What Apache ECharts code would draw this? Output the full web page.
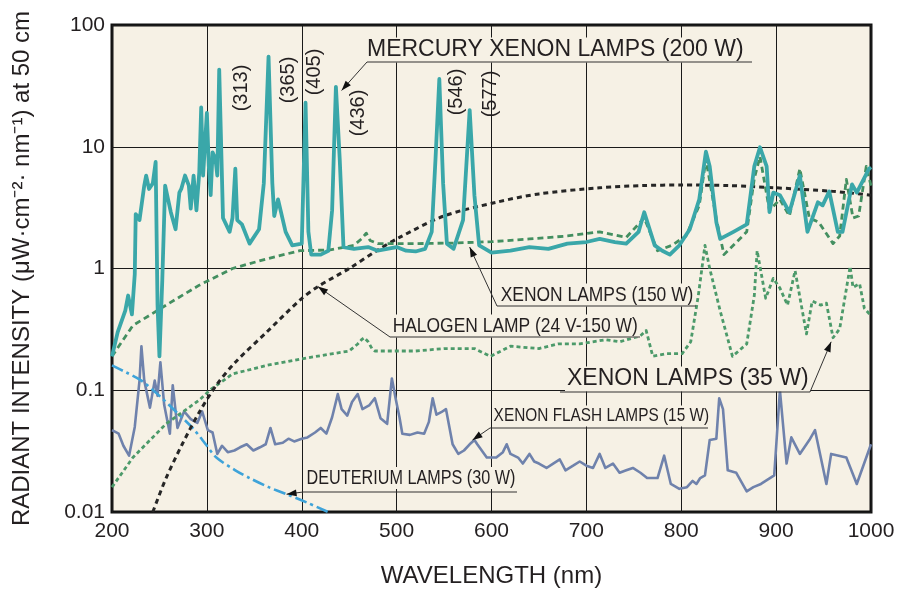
<!DOCTYPE html>
<html>
<head>
<meta charset="utf-8">
<script src="https://cdn.jsdelivr.net/npm/echarts@6/dist/echarts.min.js"></script>
<style>
  html, body { margin: 0; padding: 0; background: #ffffff; }
  #chart { width: 899px; height: 593px; }
</style>
</head>
<body>
<div id="chart"></div>
<script>
// Spectral irradiance of light sources, wavelength (nm) vs radiant intensity (log scale)

// Mercury xenon lamp, 200 W
const hgxeNm = [200,206,214,217,221,224,225,229,234,236,239,243,246,248,250,253,256,262,267,271,273,277,281,283,286,289,292,294,296,300,302,304,306,309,311,313,317,324,327,330,332,337,345,355,360,365,369,371,375,383,390,400,404,407,410,420,428,432,436,440,444,455,470,480,490,500,510,520,530,537,541,545,549,553,560,570,577,582,587,600,620,640,660,680,700,714,730,742,755,761,772,780,788,798,809,819,826,830,837,841,855,869,877,883,890,893,897,904,914,925,933,944,949,956,965,970,980,985,998,1000];
const hgxeVal = [0.19,0.3,0.45,0.6,0.42,0.9,2.8,2.5,4.8,5.8,4.5,5.0,7.5,0.5,0.19,0.8,4.8,2.9,2.1,4.2,4.5,5.8,4.8,3.1,5.8,3.0,6.2,21,5.8,19,7,4.0,9,8,5.8,43,2.6,2.0,2.6,6.6,2.5,2.3,1.6,2.1,5,55,5,2.7,3.7,2.0,1.55,1.6,23,2,1.3,1.3,1.4,3,31,8,1.5,1.45,1.5,1.4,1.45,1.5,1.4,1.38,1.45,2,8,36,5,1.6,1.45,2.5,20,4,1.55,1.35,1.4,1.5,1.45,1.6,1.65,1.75,1.65,1.6,2.0,2.9,1.55,1.4,1.3,1.55,2.1,3.7,9.1,6.9,2.4,1.75,2.0,2.3,6.9,9.9,6.9,2.9,4.2,4.0,2.9,5.8,2.0,3.5,3.3,4.3,2.0,2.0,4.9,4.2,6.6,6.8];

// Xenon lamp, 150 W
const xe150Nm = [200,222,257,292,327,363,398,430,455,463,468,472,480,520,560,600,640,680,714,742,761,775,790,805,819,826,837,845,860,869,877,883,893,904,914,925,935,945,960,967,974,981,987,995,1000];
const xe150Val = [0.19,0.34,0.5,0.73,1.0,1.2,1.4,1.42,1.55,1.75,1.95,1.7,1.6,1.6,1.62,1.66,1.75,1.85,2.0,1.8,2.6,1.4,1.55,1.85,3.3,7.9,2.55,1.3,1.7,2.0,5.5,8.3,3.0,3.7,2.7,6.6,2.6,2.4,1.6,1.85,5.4,2.6,2.7,6.9,4.8];

// Halogen lamp, 24 V-150 W
const halNm = [243,257,274,292,310,330,363,398,417,450,479,503,550,605,650,714,760,800,850,900,960,1000];
const halVal = [0.01,0.019,0.036,0.066,0.11,0.17,0.3,0.55,0.71,1.0,1.4,1.8,2.7,3.5,4.1,4.6,4.8,4.85,4.8,4.6,4.3,4.0];

// Xenon lamp, 35 W
const xe35Nm = [200,222,257,292,303,327,363,398,433,450,459,463,466,470,474,477,494,520,550,582,599,610,620,650,670,693,720,735,757,763,770,785,801,810,818,825,830,841,854,869,877,880,889,897,904,912,920,932,938,947,953,960,967,978,981,988,993,1000];
const xe35Val = [0.016,0.028,0.053,0.083,0.1,0.136,0.16,0.18,0.2,0.21,0.24,0.26,0.27,0.25,0.22,0.21,0.21,0.21,0.22,0.22,0.19,0.21,0.23,0.22,0.24,0.24,0.26,0.25,0.28,0.31,0.19,0.2,0.2,0.25,0.6,1.55,1.0,0.45,0.19,0.24,0.6,1.4,0.57,0.83,0.69,0.5,0.96,0.29,0.54,0.5,0.52,0.27,0.32,1.04,0.7,0.75,0.47,0.41];

// Xenon flash lamp, 15 W
const flashNm = [200,207,212,218,224,229,231,234,240,245,248,251,255,261,264,269,276,283,290,295,301,306,311,316,322,329,335,342,349,356,362,367,372,380,386,392,400,406,414,420,426,432,438,442,448,453,459,464,471,477,483,490,495,499,503,506,514,522,529,534,538,542,547,552,559,565,571,577,582,585,595,605,612,616,620,628,633,640,645,650,658,665,672,678,686,693,700,707,714,720,728,735,742,749,757,764,775,782,789,798,806,812,816,820,825,830,837,840,844,849,858,869,876,884,898,904,911,916,925,935,941,953,958,974,985,1000];
const flashVal = [0.047,0.044,0.035,0.029,0.05,0.12,0.23,0.12,0.072,0.12,0.09,0.17,0.076,0.044,0.11,0.049,0.067,0.058,0.054,0.067,0.047,0.045,0.03,0.035,0.031,0.032,0.034,0.036,0.032,0.034,0.036,0.049,0.036,0.037,0.04,0.038,0.04,0.041,0.045,0.049,0.044,0.06,0.093,0.07,0.062,0.08,0.093,0.07,0.075,0.086,0.059,0.053,0.125,0.085,0.06,0.044,0.043,0.045,0.044,0.055,0.086,0.063,0.066,0.07,0.036,0.03,0.032,0.036,0.039,0.036,0.028,0.028,0.031,0.036,0.03,0.028,0.025,0.03,0.026,0.025,0.023,0.025,0.027,0.022,0.024,0.026,0.024,0.023,0.03,0.023,0.025,0.021,0.022,0.023,0.021,0.019,0.019,0.029,0.017,0.0155,0.016,0.018,0.017,0.019,0.02,0.039,0.04,0.086,0.07,0.022,0.021,0.0148,0.016,0.017,0.02,0.1,0.025,0.041,0.03,0.039,0.047,0.017,0.03,0.028,0.017,0.036];

// Deuterium lamp, 30 W
const d2Nm = [200,215,231,250,268,285,300,310,330,345,365,384,405,428];
const d2Val = [0.16,0.14,0.12,0.09,0.066,0.049,0.035,0.028,0.022,0.019,0.016,0.014,0.012,0.01];

// Axis ticks
const xTicks = [200,300,400,500,600,700,800,900,1000];
const yTickLabels = ['0.01','0.1','1','10','100'];

const zip = (xs, ys) => xs.map((x, i) => [x, ys[i]]);

const FONT = "'Liberation Sans', Arial, Helvetica, sans-serif";
const chart = echarts.init(document.getElementById('chart'), null, { renderer: 'canvas' });

function line(name, xs, ys, color, width, dash, smooth, z) {
  return {
    name, type: 'line', data: zip(xs, ys), showSymbol: false, symbol: 'none',
    smooth: smooth || false, clip: true, z: z,
    lineStyle: { color, width, type: dash || 'solid', cap: 'butt', join: 'round' },
    emphasis: { disabled: true }
  };
}

chart.setOption({
  animation: false,
  backgroundColor: '#ffffff',
  grid: {
    left: 112, right: 28, top: 25, bottom: 78, show: true,
    backgroundColor: '#F6F1E5', borderColor: '#111111', borderWidth: 3
  },
  xAxis: {
    type: 'value', min: xTicks[0], max: xTicks[xTicks.length - 1], interval: 100,
    name: 'WAVELENGTH (nm)', nameLocation: 'middle', nameGap: 52,
    nameTextStyle: { fontFamily: FONT, fontSize: 24, color: '#231f20' },
    axisLine: { show: false }, axisTick: { show: false },
    axisLabel: { fontFamily: FONT, fontSize: 21, color: '#231f20', margin: 9,
      formatter: v => String(xTicks[Math.round((v - xTicks[0]) / 100)]) },
    splitLine: { show: true, lineStyle: { color: '#1a1a1a', width: 1 } }
  },
  yAxis: {
    type: 'log', logBase: 10, min: 0.01, max: 100,
    name: 'RADIANT INTENSITY (μW·cm⁻²· nm⁻¹) at 50 cm', nameLocation: 'middle', nameGap: 78, nameRotate: 90,
    nameTextStyle: { fontFamily: FONT, fontSize: 24, color: '#231f20' },
    axisLine: { show: false }, axisTick: { show: false },
    axisLabel: {
      fontFamily: FONT, fontSize: 21, color: '#231f20', margin: 7,
      formatter: v => yTickLabels[Math.round(Math.log10(v)) + 2]
    },
    splitLine: { show: true, lineStyle: { color: '#1a1a1a', width: 1 } }
  },
  series: [
    line('XENON FLASH LAMPS (15 W)', flashNm, flashVal, '#6F82AC', 2.6, 'solid', false, 2),
    line('DEUTERIUM LAMPS (30 W)', d2Nm, d2Val, '#3EA3D9', 2.6, [12, 4, 3, 4], 0.3, 3),
    line('XENON LAMPS (35 W)', xe35Nm, xe35Val, '#4C9A6A', 2.8, [4, 3], false, 4),
    line('HALOGEN LAMP (24 V-150 W)', halNm, halVal, '#262626', 3, [5, 4], 0.3, 5),
    line('XENON LAMPS (150 W)', xe150Nm, xe150Val, '#438F60', 2.8, [6, 4], false, 6),
    line('MERCURY XENON LAMPS (200 W)', hgxeNm, hgxeVal, '#3AA7A9', 3.8, 'solid', false, 7)
  ]
});

// Call-out labels: text placement in pixels, arrow tip on the curve in data units
const callouts = [
  { text: 'MERCURY XENON LAMPS (200 W)', x: 365, y: 50, size: 23, sx: 1, ux0: 367, ux1: 752, uy: 62, from: 'left', tip: [442, 29] },
  { text: 'XENON LAMPS (150 W)', x: 499, y: 295, size: 21, sx: 0.83, ux0: 497, ux1: 696, uy: 306, from: 'left', tip: [577, 1.5] },
  { text: 'HALOGEN LAMP (24 V-150 W)', x: 391, y: 326, size: 21, sx: 0.83, ux0: 390, ux1: 640, uy: 337, from: 'left', tip: [417, 0.71] },
  { text: 'XENON LAMPS (35 W)', x: 565, y: 379, size: 23, sx: 1, ux0: 560, ux1: 810, uy: 392, from: 'right', tip: [958, 0.25] },
  { text: 'XENON FLASH LAMPS (15 W)', x: 492, y: 416, size: 19, sx: 0.81, ux0: 490, ux1: 708, uy: 428, from: 'left', tip: [580, 0.039] },
  { text: 'DEUTERIUM LAMPS (30 W)', x: 305, y: 478, size: 20, sx: 0.81, ux0: 303, ux1: 517, uy: 492, from: 'left', tip: [384, 0.014] }
];

// Rotated mercury line labels (nm), centre positions in pixels
const lineLabels = [
  { text: '(313)', x: 241, y: 88 },
  { text: '(365)', x: 288, y: 80 },
  { text: '(405)', x: 314, y: 72 },
  { text: '(436)', x: 358, y: 113 },
  { text: '(546)', x: 456, y: 92 },
  { text: '(577)', x: 490, y: 94 }
];

const graphics = [];
callouts.forEach(c => {
  const tip = chart.convertToPixel({ gridIndex: 0 }, c.tip);
  const sx = c.from === 'left' ? c.ux0 : c.ux1;
  graphics.push({
    type: 'text', x: c.x, y: c.y, scaleX: c.sx, z: 100,
    style: {
      text: c.text, font: `${c.size}px ${FONT}`, fill: '#231f20',
      textAlign: 'left', textVerticalAlign: 'middle', verticalAlign: 'middle',
      backgroundColor: '#F6F1E5', padding: [1, 2, 1, 2]
    }
  });
  graphics.push({
    type: 'polyline', z: 100,
    shape: { points: [[c.ux0, c.uy], [c.ux1, c.uy]] },
    style: { stroke: '#333', lineWidth: 1.2, fill: null }
  });
  graphics.push({
    type: 'polyline', z: 100,
    shape: { points: [[sx, c.uy], tip] },
    style: { stroke: '#333', lineWidth: 1, fill: null }
  });
  // arrow head pointing at the curve
  const dx = tip[0] - sx, dy = tip[1] - c.uy;
  const len = Math.hypot(dx, dy) || 1;
  const ux = dx / len, uy = dy / len;
  const L = 10, W = 3.5;
  const bx = tip[0] - ux * L, by = tip[1] - uy * L;
  graphics.push({
    type: 'polygon', z: 101,
    shape: { points: [tip, [bx - uy * W, by + ux * W], [bx + uy * W, by - ux * W]] },
    style: { fill: '#111' }
  });
});
lineLabels.forEach(l => {
  graphics.push({
    type: 'text', x: l.x, y: l.y, rotation: Math.PI / 2, z: 100,
    style: {
      text: l.text, font: `20px ${FONT}`, fill: '#231f20',
      textAlign: 'center', textVerticalAlign: 'middle', verticalAlign: 'middle'
    }
  });
});
chart.setOption({ graphic: graphics });
</script>
</body>
</html>
